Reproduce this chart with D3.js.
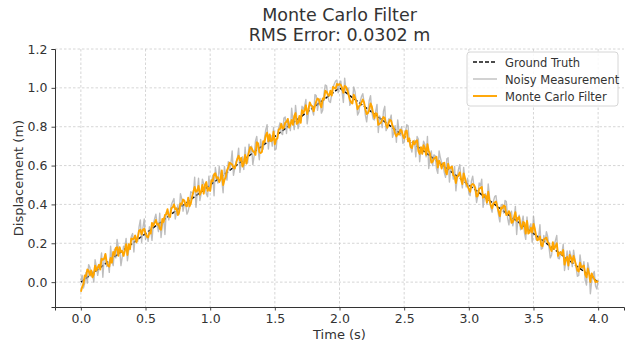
<!DOCTYPE html>
<html>
<head>
<meta charset="utf-8">
<script src="https://cdn.jsdelivr.net/npm/d3@7"></script>
<style>
  html, body { margin: 0; padding: 0; background: #fff; }
  svg { display: block; font-family: "DejaVu Sans", sans-serif; }
</style>
</head>
<body>
<svg id="chart" width="626" height="344"></svg>
<script>
// Sampling grid of the recorded signal (seconds)
const t0 = 0;
const dt = 0.01;

// Ground truth: triangular displacement profile
const truthTime = [0, 2, 4];
const truthValues = [0, 1, 0];

// Raw noisy measurements (m), one per sample
const noisyValues = [
  0.01, 0.035, -0.03, -0.005, 0.05, -0.005, 0.09, 0.075, 0.03, 0.055,
  0.00, 0.115, 0.08, 0.035, 0.07, 0.095, 0.15, 0.025, 0.12, 0.145,
  0.08, 0.105, 0.05, 0.185, 0.11, 0.085, 0.17, 0.125, 0.22, 0.175,
  0.17, 0.085, 0.13, 0.185, 0.18, 0.225, 0.11, 0.165, 0.17, 0.235,
  0.25, 0.155, 0.24, 0.225, 0.21, 0.285, 0.32, 0.205, 0.28, 0.325,
  0.22, 0.245, 0.21, 0.285, 0.27, 0.215, 0.30, 0.325, 0.35, 0.295,
  0.26, 0.355, 0.23, 0.295, 0.33, 0.245, 0.36, 0.365, 0.32, 0.355,
  0.40, 0.415, 0.43, 0.325, 0.36, 0.395, 0.35, 0.455, 0.43, 0.365,
  0.40, 0.405, 0.35, 0.365, 0.40, 0.465, 0.46, 0.455, 0.54, 0.385,
  0.46, 0.535, 0.42, 0.455, 0.53, 0.505, 0.50, 0.455, 0.44, 0.545,
  0.47, 0.515, 0.55, 0.445, 0.59, 0.545, 0.51, 0.595, 0.55, 0.525,
  0.46, 0.595, 0.55, 0.525, 0.62, 0.575, 0.61, 0.675, 0.55, 0.585,
  0.62, 0.635, 0.69, 0.565, 0.62, 0.645, 0.58, 0.695, 0.61, 0.615,
  0.71, 0.665, 0.70, 0.605, 0.65, 0.725, 0.75, 0.685, 0.63, 0.735,
  0.69, 0.685, 0.74, 0.785, 0.81, 0.685, 0.75, 0.755, 0.70, 0.795,
  0.68, 0.685, 0.76, 0.795, 0.82, 0.765, 0.76, 0.845, 0.85, 0.765,
  0.84, 0.825, 0.78, 0.895, 0.83, 0.785, 0.91, 0.845, 0.79, 0.825,
  0.83, 0.905, 0.89, 0.905, 0.94, 0.815, 0.87, 0.915, 0.91, 0.885,
  0.86, 0.965, 0.96, 0.885, 0.93, 0.945, 0.87, 0.885, 0.97, 1.015,
  1.01, 0.955, 0.93, 0.925, 0.97, 1.005, 1.02, 1.035, 1.04, 0.975,
  1.02, 1.035, 0.98, 0.925, 1.05, 0.985, 1.00, 0.995, 0.91, 0.925,
  0.93, 1.005, 0.98, 0.925, 0.86, 0.875, 0.93, 0.955, 0.97, 0.925,
  0.86, 0.825, 0.88, 0.935, 0.96, 0.875, 0.84, 0.835, 0.88, 0.915,
  0.77, 0.855, 0.84, 0.795, 0.88, 0.905, 0.78, 0.795, 0.84, 0.835,
  0.86, 0.745, 0.77, 0.805, 0.72, 0.835, 0.78, 0.755, 0.80, 0.715,
  0.72, 0.775, 0.81, 0.805, 0.72, 0.695, 0.67, 0.725, 0.73, 0.645,
  0.75, 0.735, 0.62, 0.685, 0.66, 0.725, 0.71, 0.645, 0.75, 0.585,
  0.64, 0.675, 0.60, 0.655, 0.65, 0.585, 0.56, 0.675, 0.64, 0.615,
  0.61, 0.565, 0.54, 0.635, 0.64, 0.515, 0.59, 0.585, 0.53, 0.595,
  0.47, 0.535, 0.58, 0.605, 0.53, 0.485, 0.59, 0.525, 0.49, 0.535,
  0.46, 0.445, 0.52, 0.545, 0.49, 0.475, 0.41, 0.445, 0.51, 0.495,
  0.53, 0.385, 0.43, 0.455, 0.40, 0.505, 0.44, 0.385, 0.36, 0.415,
  0.44, 0.445, 0.39, 0.345, 0.31, 0.395, 0.40, 0.355, 0.42, 0.415,
  0.33, 0.295, 0.35, 0.365, 0.29, 0.325, 0.39, 0.245, 0.33, 0.345,
  0.27, 0.305, 0.34, 0.255, 0.22, 0.335, 0.26, 0.285, 0.30, 0.205,
  0.34, 0.275, 0.22, 0.215, 0.23, 0.295, 0.17, 0.175, 0.24, 0.205,
  0.26, 0.235, 0.18, 0.125, 0.14, 0.195, 0.19, 0.215, 0.24, 0.125,
  0.12, 0.155, 0.15, 0.195, 0.06, 0.105, 0.16, 0.065, 0.16, 0.135,
  0.08, 0.165, 0.12, 0.075, 0.03, 0.035, 0.14, 0.085, 0.07, 0.105,
  0.01, -0.015, 0.10, 0.065, -0.06, 0.005, 0.04, 0.055, -0.02, -0.035,
  0.01
];

// Particle filter estimate (m), one per sample
const filterValues = [
  -0.05, -0.025, -0.01, 0.035, 0.03, 0.065, 0.06, 0.035, 0.06, 0.025,
  0.04, 0.085, 0.06, 0.075, 0.09, 0.065, 0.12, 0.115, 0.12, 0.145,
  0.10, 0.085, 0.08, 0.125, 0.10, 0.155, 0.14, 0.175, 0.18, 0.135,
  0.18, 0.155, 0.16, 0.135, 0.16, 0.195, 0.14, 0.195, 0.17, 0.225,
  0.22, 0.225, 0.24, 0.205, 0.23, 0.265, 0.27, 0.245, 0.27, 0.275,
  0.25, 0.235, 0.23, 0.255, 0.25, 0.305, 0.29, 0.305, 0.32, 0.295,
  0.30, 0.275, 0.27, 0.325, 0.31, 0.345, 0.35, 0.375, 0.34, 0.335,
  0.38, 0.385, 0.40, 0.375, 0.38, 0.345, 0.36, 0.405, 0.40, 0.425,
  0.42, 0.395, 0.39, 0.435, 0.39, 0.405, 0.44, 0.465, 0.49, 0.465,
  0.47, 0.495, 0.45, 0.465, 0.50, 0.455, 0.50, 0.515, 0.47, 0.485,
  0.47, 0.525, 0.52, 0.555, 0.56, 0.535, 0.54, 0.515, 0.53, 0.575,
  0.50, 0.525, 0.54, 0.575, 0.59, 0.615, 0.61, 0.605, 0.59, 0.585,
  0.61, 0.635, 0.65, 0.625, 0.64, 0.595, 0.61, 0.655, 0.61, 0.645,
  0.67, 0.695, 0.69, 0.675, 0.67, 0.655, 0.72, 0.715, 0.67, 0.665,
  0.67, 0.725, 0.72, 0.755, 0.77, 0.725, 0.76, 0.725, 0.73, 0.775,
  0.71, 0.735, 0.74, 0.785, 0.79, 0.815, 0.79, 0.795, 0.82, 0.825,
  0.84, 0.795, 0.81, 0.835, 0.81, 0.855, 0.87, 0.815, 0.82, 0.855,
  0.82, 0.885, 0.87, 0.885, 0.91, 0.865, 0.89, 0.925, 0.91, 0.905,
  0.88, 0.905, 0.93, 0.945, 0.94, 0.915, 0.90, 0.945, 0.94, 0.985,
  0.98, 0.965, 0.96, 0.985, 0.96, 1.005, 1.00, 0.995, 1.02, 1.015,
  1.02, 1.015, 1.00, 0.975, 1.01, 1.005, 0.99, 0.965, 0.94, 0.925,
  0.92, 0.965, 0.95, 0.925, 0.89, 0.905, 0.91, 0.925, 0.94, 0.925,
  0.89, 0.865, 0.87, 0.885, 0.92, 0.905, 0.87, 0.845, 0.87, 0.865,
  0.81, 0.815, 0.82, 0.835, 0.85, 0.845, 0.81, 0.795, 0.82, 0.835,
  0.83, 0.805, 0.79, 0.765, 0.75, 0.765, 0.76, 0.785, 0.78, 0.755,
  0.74, 0.775, 0.78, 0.725, 0.74, 0.695, 0.69, 0.725, 0.71, 0.725,
  0.73, 0.675, 0.66, 0.695, 0.66, 0.705, 0.69, 0.655, 0.71, 0.675,
  0.66, 0.615, 0.62, 0.635, 0.64, 0.645, 0.59, 0.625, 0.61, 0.585,
  0.61, 0.615, 0.57, 0.555, 0.61, 0.585, 0.59, 0.595, 0.55, 0.545,
  0.51, 0.545, 0.55, 0.565, 0.53, 0.505, 0.56, 0.535, 0.51, 0.495,
  0.48, 0.465, 0.50, 0.505, 0.50, 0.485, 0.44, 0.445, 0.48, 0.485,
  0.49, 0.435, 0.45, 0.445, 0.41, 0.465, 0.42, 0.395, 0.38, 0.405,
  0.41, 0.415, 0.39, 0.365, 0.34, 0.385, 0.38, 0.395, 0.39, 0.345,
  0.35, 0.365, 0.35, 0.305, 0.31, 0.335, 0.36, 0.315, 0.33, 0.335,
  0.29, 0.275, 0.31, 0.305, 0.25, 0.315, 0.25, 0.255, 0.28, 0.255,
  0.30, 0.275, 0.24, 0.215, 0.22, 0.235, 0.19, 0.185, 0.22, 0.225,
  0.23, 0.205, 0.20, 0.175, 0.16, 0.205, 0.17, 0.185, 0.20, 0.135,
  0.15, 0.155, 0.14, 0.165, 0.09, 0.115, 0.13, 0.085, 0.14, 0.125,
  0.10, 0.135, 0.11, 0.085, 0.06, 0.055, 0.10, 0.075, 0.08, 0.085,
  0.04, 0.025, 0.07, 0.045, 0.00, 0.045, 0.03, 0.015, 0.00, 0.005,
  0.00
];

const xTicks = [0, 0.5, 1.0, 1.5, 2.0, 2.5, 3.0, 3.5, 4.0];
const yTicks = [0, 0.2, 0.4, 0.6, 0.8, 1.0, 1.2];

const titleLines = ["Monte Carlo Filter", "RMS Error: 0.0302 m"];
const legendLabels = ["Ground Truth", "Noisy Measurement", "Monte Carlo Filter"];

const svg = d3.select("#chart");
const plot = { left: 55, right: 624, top: 49, bottom: 307 };
const textColor = "#333";

const x = d3.scaleLinear().domain([-0.2, 4.2]).range([plot.left, plot.right]);
const y = d3.scaleLinear().domain([-0.128, 1.2]).range([plot.bottom, plot.top]);

// Grid
const grid = svg.append("g").attr("stroke", "#cccccc").attr("stroke-width", 0.8)
  .attr("stroke-dasharray", "2.5,2");
grid.selectAll("line.gx").data(xTicks).join("line")
  .attr("x1", d => x(d)).attr("x2", d => x(d))
  .attr("y1", plot.top).attr("y2", plot.bottom);
grid.selectAll("line.gy").data(yTicks).join("line")
  .attr("x1", plot.left).attr("x2", plot.right)
  .attr("y1", d => y(d)).attr("y2", d => y(d));

// Series
const pts = vals => vals.map((v, i) => [t0 + i * dt, v]);
const line = d3.line().x(d => x(d[0])).y(d => y(d[1]));

svg.append("clipPath").attr("id", "clip").append("rect")
  .attr("x", plot.left).attr("y", 0)
  .attr("width", plot.right - plot.left).attr("height", plot.bottom);
const series = svg.append("g").attr("clip-path", "url(#clip)");

series.append("path")
  .datum(truthTime.map((t, i) => [t, truthValues[i]]))
  .attr("d", line).attr("fill", "none")
  .attr("stroke", "#111").attr("stroke-width", 1.5)
  .attr("stroke-dasharray", "4,2");

series.append("path")
  .datum(pts(noisyValues))
  .attr("d", line).attr("fill", "none")
  .attr("stroke", "#a8a8a8").attr("stroke-opacity", 0.75)
  .attr("stroke-width", 1.4).attr("stroke-linejoin", "round");

series.append("path")
  .datum(pts(filterValues))
  .attr("d", line).attr("fill", "none")
  .attr("stroke", "#ffa500").attr("stroke-width", 1.9)
  .attr("stroke-linejoin", "round");

// Axes
const xAxis = svg.append("g").attr("transform", `translate(0,${plot.bottom})`)
  .call(d3.axisBottom(x).tickValues(xTicks).tickFormat(d3.format(".1f")).tickSizeOuter(0).tickSize(3.5).tickPadding(4));
const yAxis = svg.append("g").attr("transform", `translate(${plot.left},0)`)
  .call(d3.axisLeft(y).tickValues(yTicks).tickFormat(d3.format(".1f")).tickSizeOuter(0).tickSize(3.5).tickPadding(4));
[xAxis, yAxis].forEach(a => {
  a.select(".domain").attr("stroke", "#333").attr("stroke-width", 1);
  a.selectAll(".tick line").attr("stroke", "#333").attr("stroke-width", 0.9);
  a.selectAll(".tick text").attr("fill", textColor).attr("font-size", 12.5)
    .attr("font-family", "DejaVu Sans, sans-serif");
});

// Axis labels
svg.append("text").attr("x", (plot.left + plot.right) / 2).attr("y", 339)
  .attr("text-anchor", "middle").attr("fill", textColor).attr("font-size", 13)
  .text("Time (s)");
svg.append("text")
  .attr("transform", `translate(23,${(plot.top + plot.bottom) / 2}) rotate(-90)`)
  .attr("text-anchor", "middle").attr("fill", textColor).attr("font-size", 13)
  .text("Displacement (m)");

// Title
svg.selectAll("text.title").data(titleLines).join("text")
  .attr("class", "title")
  .attr("x", (plot.left + plot.right) / 2)
  .attr("y", (d, i) => 21 + i * 20)
  .attr("text-anchor", "middle").attr("fill", textColor).attr("font-size", 17.5)
  .text(d => d);

// Legend
const legend = svg.append("g").attr("transform", "translate(467,52)");
legend.append("rect").attr("width", 151).attr("height", 54).attr("rx", 3)
  .attr("fill", "#fff").attr("fill-opacity", 0.85)
  .attr("stroke", "#d6d6d6").attr("stroke-width", 1);
const legendStyles = [
  { color: "#111", width: 1.5, dash: "4,2", opacity: 1 },
  { color: "#a8a8a8", width: 1.4, dash: null, opacity: 0.75 },
  { color: "#ffa500", width: 1.9, dash: null, opacity: 1 }
];
const rows = legend.selectAll("g.row").data(legendLabels).join("g")
  .attr("class", "row")
  .attr("transform", (d, i) => `translate(0,${10 + i * 17})`);
rows.append("line").attr("x1", 6).attr("x2", 30).attr("y1", 0).attr("y2", 0)
  .attr("stroke", (d, i) => legendStyles[i].color)
  .attr("stroke-width", (d, i) => legendStyles[i].width)
  .attr("stroke-opacity", (d, i) => legendStyles[i].opacity)
  .attr("stroke-dasharray", (d, i) => legendStyles[i].dash);
rows.append("text").attr("x", 38).attr("y", 4.5)
  .attr("fill", textColor).attr("font-size", 11.5)
  .text(d => d);
</script>
</body>
</html>
